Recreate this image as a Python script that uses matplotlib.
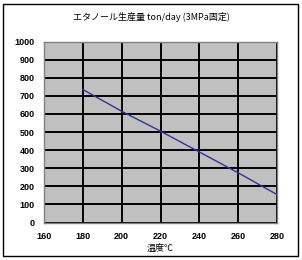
import matplotlib.pyplot as plt
from matplotlib.patches import Rectangle

plt.rcParams['font.family'] = ['Noto Sans CJK JP', 'DejaVu Sans']

temp = [180, 200, 220, 240, 260, 280]
ton_day = [735, 615, 505, 390, 275, 155]

fig = plt.figure(figsize=(3.02, 2.60), dpi=100)
ax = fig.add_axes([0.146, 0.144, 0.771, 0.696])
ax.set_facecolor('#c0c0c0')
ax.plot(temp, ton_day, color='#333399', linewidth=1.0)

ax.set_xlim(160, 280)
ax.set_ylim(0, 1000)
ax.set_xticks(range(160, 281, 20))
ax.set_yticks(range(0, 1001, 100))
ax.grid(True, color='black', linewidth=1.4)
ax.set_axisbelow(True)
for s in ax.spines.values():
    s.set_color('#808080')
    s.set_linewidth(1.0)
ax.tick_params(length=0, labelsize=6.5, pad=7)
for lab in ax.get_xticklabels() + ax.get_yticklabels():
    lab.set_fontweight('bold')
    lab.set_family('Liberation Sans')

fig.text(0.5, 0.935, 'エタノール生産量 ton/day (3MPa固定)', ha='center', va='center', fontsize=6.5)
fig.text(0.531, 0.046, '温度℃', ha='center', va='center', fontsize=6.5)

fig.patches.append(Rectangle((0.01, 0.015), 0.978, 0.97, transform=fig.transFigure,
                             fill=False, edgecolor='black', linewidth=1.0))

fig.savefig('out.png', dpi=100)
